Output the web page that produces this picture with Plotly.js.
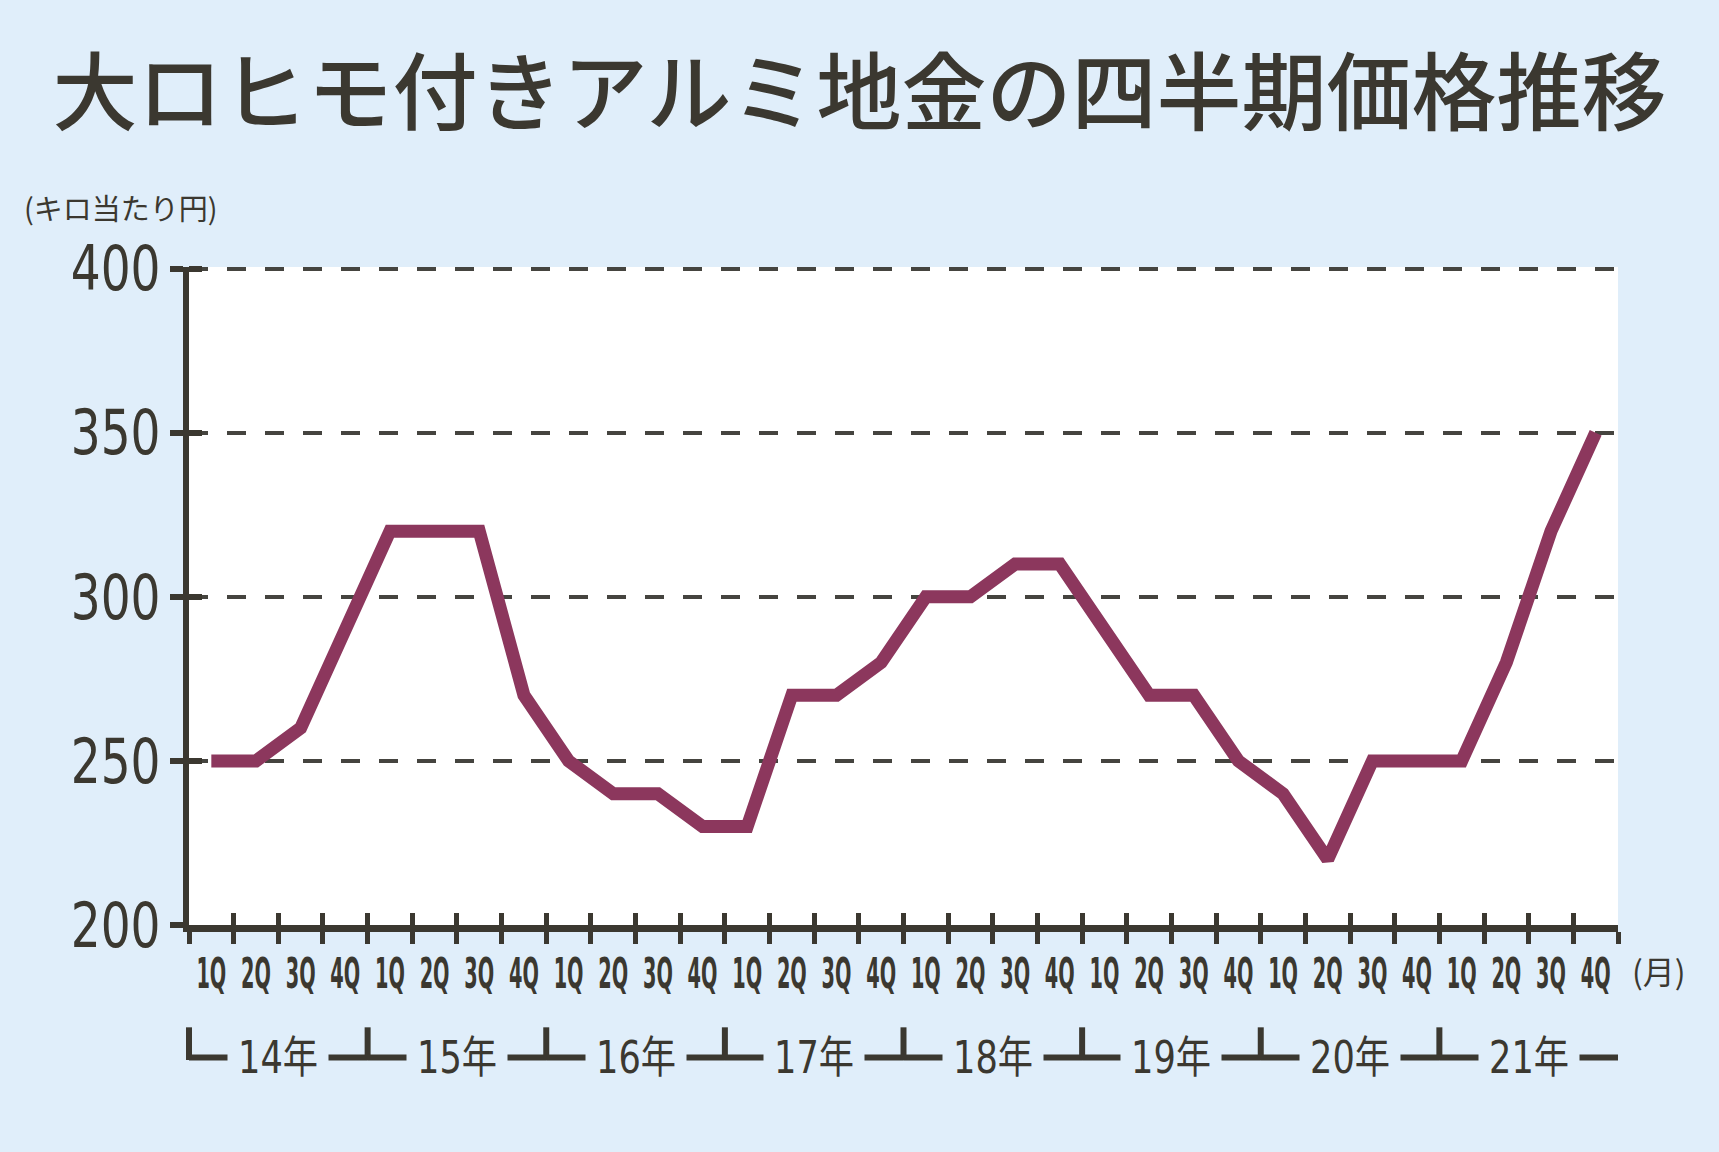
<!DOCTYPE html>
<html>
<head>
<meta charset="utf-8">
<script src="https://cdn.plot.ly/plotly-3.0.1.min.js"></script>
<style>
  html, body { margin: 0; padding: 0; background: #e0eefa; }
  #chart { width: 1719px; height: 1152px; }
  /* condensed look of the original lettering */
  g.x3tick { transform-box: fill-box; transform-origin: center; transform: scaleX(0.45); }
  g.ytick { transform-box: fill-box; transform-origin: right center; transform: scaleX(0.76); }
  text.annotation-text.yearlab { transform-box: fill-box; transform-origin: center; transform: scaleX(0.8); }
</style>
</head>
<body>
<div id="chart"></div>
<script>
// ---- data ----
const quarters = ['1Q', '2Q', '3Q', '4Q'];
const years = ['14年', '15年', '16年', '17年', '18年', '19年', '20年', '21年'];
const price = [
  250, 250, 260, 290,   // 2014
  320, 320, 320, 270,   // 2015
  250, 240, 240, 230,   // 2016
  230, 270, 270, 280,   // 2017
  300, 300, 310, 310,   // 2018
  290, 270, 270, 250,   // 2019
  240, 220, 250, 250,   // 2020
  250, 280, 320, 350    // 2021
];
const yTicks = [200, 250, 300, 350, 400];
const titleText = '大ロヒモ付きアルミ地金の四半期価格推移';
const yUnit = '(キロ当たり円)';
const xUnit = '(月)';

// ---- derived ----
const qLabels = years.flatMap(() => quarters);
const idx = price.map((_, i) => i);
const n = price.length;
const xRange = [-0.5, n - 0.5];
const yRange = [yTicks[0], yTicks[yTicks.length - 1] + 0.5];
const boundaries = Array.from({length: n + 1}, (_, i) => i - 0.5);

const ink = '#3b3830';
const bg = '#e0eefa';
const sans = '"DejaVu Sans", "Noto Sans CJK JP", sans-serif';
const cjk = '"Noto Sans CJK JP", sans-serif';

const toPaper = v => (v - xRange[0]) / (xRange[1] - xRange[0]);

const lineY = -0.2012;
const tickTop = -0.1555;

const shapes = [];
const annotations = [];
years.forEach((yr, k) => {
  const s = k * 4 - 0.5, e = k * 4 + 3.5;
  shapes.push({type: 'line', xref: 'paper', yref: 'paper', x0: toPaper(s), x1: toPaper(e),
               y0: lineY, y1: lineY, line: {color: ink, width: 6}});
  shapes.push({type: 'line', xref: 'paper', yref: 'paper', x0: toPaper(s), x1: toPaper(s),
               y0: tickTop, y1: lineY - 0.004, line: {color: ink, width: 6}});
  annotations.push({xref: 'x', yref: 'paper', x: k * 4 + 1.5, y: lineY, yanchor: 'middle',
                    xanchor: 'center', showarrow: false, text: yr,
                    bgcolor: bg, borderpad: 0, name: 'year',
                    font: {family: sans, size: 44, color: ink}});
});
annotations.push({xref: 'paper', yref: 'paper', x: (22 - 189) / 1429, y: (925 - 209) / 656,
                  xanchor: 'left', yanchor: 'middle', showarrow: false, text: yUnit,
                  font: {family: cjk, size: 29, color: ink}});
annotations.push({xref: 'paper', yref: 'paper', x: (1659 - 189) / 1429, y: (925 - 970) / 656,
                  xanchor: 'center', yanchor: 'middle', showarrow: false, text: xUnit,
                  font: {family: cjk, size: 32, color: ink}});

const traces = [
  {x: idx, y: price, type: 'scatter', mode: 'lines', xaxis: 'x', yaxis: 'y',
   line: {color: '#8c375d', width: 13}, hoverinfo: 'skip'},
  {x: idx, y: price, type: 'scatter', mode: 'lines', xaxis: 'x2', yaxis: 'y2',
   line: {color: 'rgba(0,0,0,0)', width: 0}, hoverinfo: 'skip', showlegend: false},
  {x: idx, y: price, type: 'scatter', mode: 'lines', xaxis: 'x3', yaxis: 'y',
   line: {color: 'rgba(0,0,0,0)', width: 0}, hoverinfo: 'skip', showlegend: false}
];

const layout = {
  width: 1719, height: 1152,
  paper_bgcolor: bg, plot_bgcolor: '#ffffff',
  margin: {l: 189, r: 101, t: 267, b: 227, pad: 0},
  showlegend: false,
  title: {text: titleText, x: 0.5, xref: 'container', xanchor: 'center',
          y: 1 - 94 / 1152, yref: 'container', yanchor: 'middle',
          font: {family: cjk, size: 85, weight: 500, color: ink}},
  xaxis: {range: xRange, tickmode: 'array', tickvals: boundaries, ticktext: boundaries.map(() => ''),
          ticks: 'outside', ticklen: 12, tickwidth: 5, tickcolor: ink,
          showline: true, linecolor: ink, linewidth: 7, showgrid: false, zeroline: false,
          showticklabels: false, fixedrange: true},
  xaxis2: {range: xRange, overlaying: 'x', anchor: 'y', side: 'bottom',
           tickmode: 'array', tickvals: boundaries, ticks: 'inside', ticklen: 12, tickwidth: 5, tickcolor: ink,
           showline: false, showgrid: false, zeroline: false, showticklabels: false},
  xaxis3: {range: xRange, overlaying: 'x', anchor: 'y', side: 'bottom',
           tickmode: 'array', tickvals: idx, ticktext: qLabels, ticks: '', ticklen: 0,
           tickangle: 0, autotickangles: [0],
           ticklabelstandoff: 19,
           showline: false, showgrid: false, zeroline: false,
           tickfont: {family: sans, size: 43, weight: 'bold', color: ink}},
  yaxis: {range: yRange, tickmode: 'array', tickvals: yTicks,
          ticks: 'outside', ticklen: 13, tickwidth: 6, tickcolor: ink,
          showline: true, linecolor: ink, linewidth: 6, zeroline: false,
          showgrid: true, gridcolor: '#45443f', gridwidth: 4, griddash: '19px,19px',
          ticklabelstandoff: -3,
          tickfont: {family: sans, size: 62, color: ink}, fixedrange: true},
  yaxis2: {range: yRange, overlaying: 'y', anchor: 'x', side: 'left',
           tickmode: 'array', tickvals: yTicks, ticks: 'inside', ticklen: 13, tickwidth: 6, tickcolor: ink,
           showline: false, showgrid: false, zeroline: false, showticklabels: false},
  shapes: shapes,
  annotations: annotations
};

Plotly.newPlot('chart', traces, layout, {displayModeBar: false, staticPlot: true}).then(gd => {
  // tag the year labels so the stylesheet can condense them
  gd.querySelectorAll('g.annotation').forEach((g, i) => {
    if (i < years.length) {
      const t = g.querySelector('text.annotation-text');
      if (t) t.classList.add('yearlab');
    }
  });
});
</script>
</body>
</html>
